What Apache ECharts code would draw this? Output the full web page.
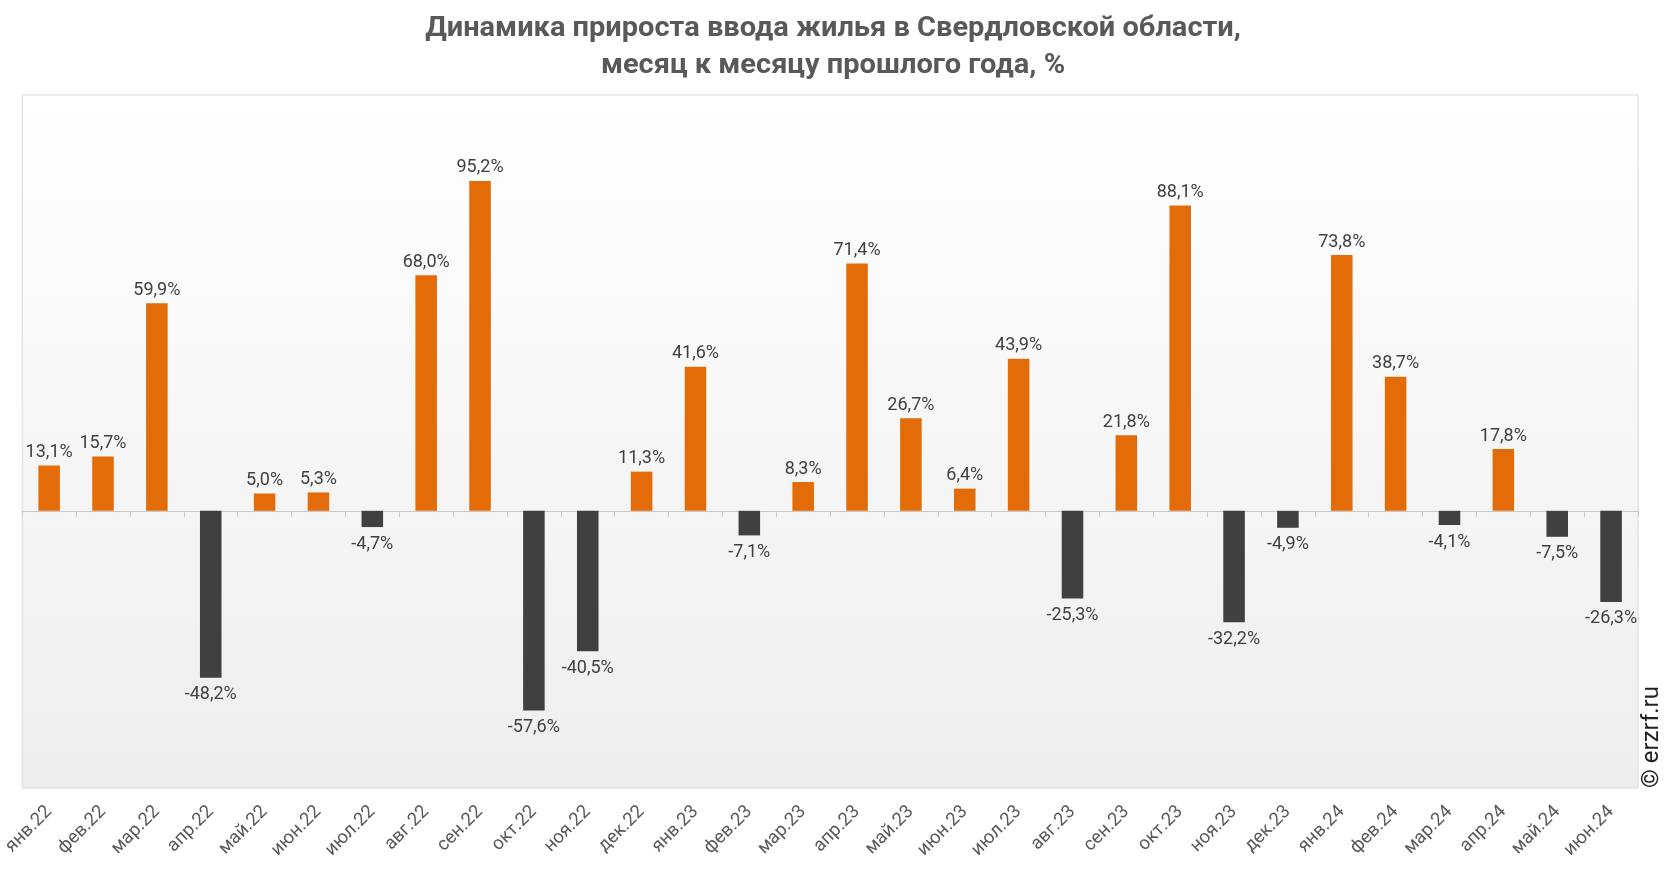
<!DOCTYPE html>
<html><head><meta charset="utf-8">
<script src="https://cdn.jsdelivr.net/npm/echarts@6/dist/echarts.min.js"></script>
<style>html,body{margin:0;padding:0;background:#fff}#c{width:1666px;height:872px}</style>
</head><body><div id="c"></div>
<script>
const categories = ['янв.22','фев.22','мар.22','апр.22','май.22','июн.22','июл.22','авг.22','сен.22','окт.22','ноя.22','дек.22','янв.23','фев.23','мар.23','апр.23','май.23','июн.23','июл.23','авг.23','сен.23','окт.23','ноя.23','дек.23','янв.24','фев.24','мар.24','апр.24','май.24','июн.24'];
const values = [13.1,15.7,59.9,-48.2,5.0,5.3,-4.7,68.0,95.2,-57.6,-40.5,11.3,41.6,-7.1,8.3,71.4,26.7,6.4,43.9,-25.3,21.8,88.1,-32.2,-4.9,73.8,38.7,-4.1,17.8,-7.5,-26.3];
const titleLines = ['Динамика прироста ввода жилья в Свердловской области,', 'месяц к месяцу прошлого года, %'];
const copyright = '© erzrf.ru';

const ORANGE = '#E36C09', DARK = '#404040';
const chart = echarts.init(document.getElementById('c'));
chart.setOption({
  animation: false,
  grid: {
    left: 20, right: 28, top: 95, bottom: 84, show: true,
    borderColor: '#d9d9d9', borderWidth: 1,
    backgroundColor: new echarts.graphic.LinearGradient(0,0,0,1,[{offset:0,color:'#ffffff'},{offset:1,color:'#eeeeee'}])
  },
  xAxis: [
    {type:'category', data: categories, position:'bottom', axisLine:{show:false, onZero:false}, axisTick:{show:false},
     axisLabel:{rotate:45, interval:0, margin:21, color:'#595959', fontSize:18.5, fontFamily:'Roboto, sans-serif'}},
    {type:'category', data: categories, position:'bottom', axisLine:{show:true, onZero:true, lineStyle:{color:'#c8c8c8', width:1}},
     axisTick:{show:true, length:6, lineStyle:{color:'#c8c8c8'}}, axisLabel:{show:false}}
  ],
  yAxis: {type:'value', min:-80, max:120, interval:20, show:false, splitLine:{show:false}},
  graphic: [
    {type:'text', x: 833, y: 10, scaleX: 1.036,
     style:{text: titleLines.join('\n'), align:'center', verticalAlign:'top', fontSize: 28, lineHeight: 37,
            fontWeight:'bold', fontFamily:'"Liberation Sans Narrow", Roboto, sans-serif', fill:'#595959'}},
    {type:'text', x: 1652, y: 788, rotation: Math.PI/2,
     style:{text: copyright, align:'left', verticalAlign:'middle', fontSize: 24, fill:'#222', fontFamily:'Roboto, sans-serif'}}
  ],
  series: [{
    type:'bar', xAxisIndex:0, barWidth:'40%',
    data: values.map(v => ({
      value: v,
      itemStyle:{color: v >= 0 ? ORANGE : DARK},
      label:{position: v >= 0 ? 'top' : 'bottom', distance: v >= 0 ? 4 : 8}
    })),
    label:{show:true, color:'#404040', fontSize:18, fontFamily:'Roboto, sans-serif',
      formatter: p => p.value.toFixed(1).replace('.', ',') + '%'}
  }]
});
</script></body></html>
